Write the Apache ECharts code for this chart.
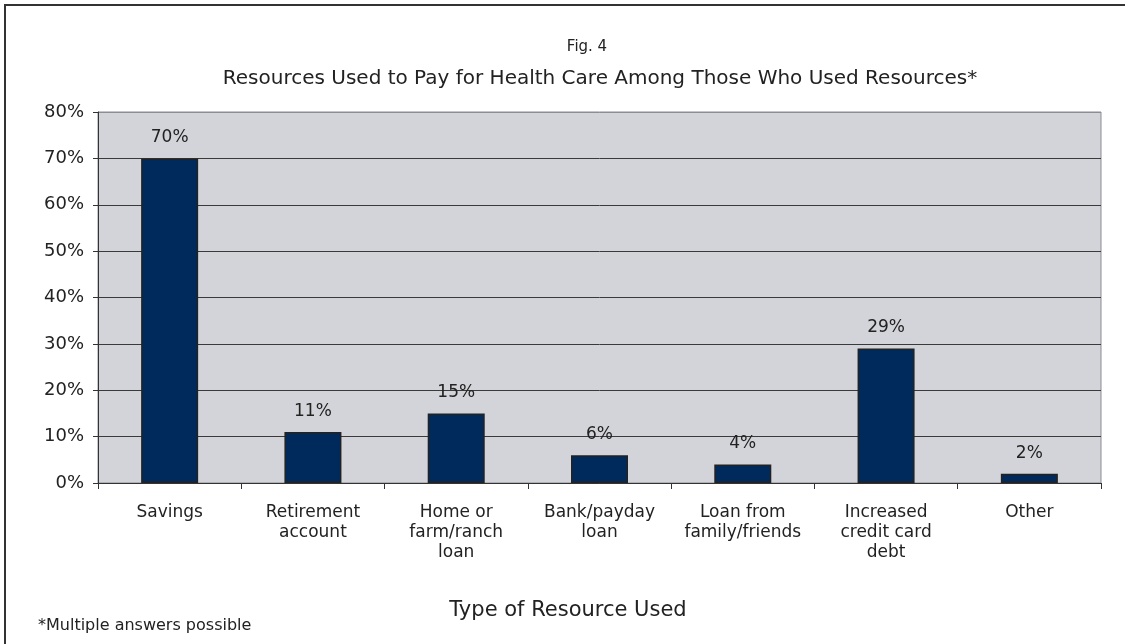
<!DOCTYPE html>
<html>
<head>
<meta charset="utf-8">
<script src="https://cdn.jsdelivr.net/npm/echarts@6/dist/echarts.min.js"></script>
<style>
html,body{margin:0;padding:0;background:#fff;}
#chart{width:1125px;height:644px;}
</style>
</head>
<body>
<div id="chart"></div>
<script>
const categories = ['Savings', 'Retirement\naccount', 'Home or\nfarm/ranch\nloan', 'Bank/payday\nloan', 'Loan from\nfamily/friends', 'Increased\ncredit card\ndebt', 'Other'];
const values = [70, 11, 15, 6, 4, 29, 2];
const yTicks = [0, 10, 20, 30, 40, 50, 60, 70, 80];

const FONT = 'DejaVu Sans';
const chart = echarts.init(document.getElementById('chart'));
chart.setOption({
  backgroundColor: '#ffffff',
  animation: false,
  textStyle: { fontFamily: FONT, color: '#222' },
  title: [
    { text: 'Fig. 4', left: 582, top: 35, textAlign: 'center',
      textStyle: { fontFamily: FONT, fontSize: 15, fontWeight: 'normal', color: '#222' } },
    { text: 'Resources Used to Pay for Health Care Among Those Who Used Resources*', left: 595, top: 64, textAlign: 'center',
      textStyle: { fontFamily: FONT, fontSize: 20, fontWeight: 'normal', color: '#222' } },
    { text: '*Multiple answers possible', left: 33, top: 613,
      textStyle: { fontFamily: FONT, fontSize: 16, fontWeight: 'normal', color: '#222' } },
    { text: 'Type of Resource Used', left: 563, top: 595, textAlign: 'center',
      textStyle: { fontFamily: FONT, fontSize: 21, fontWeight: 'normal', color: '#222' } }
  ],
  graphic: [
    { type: 'rect', shape: { x: 5, y: 5, width: 1300, height: 800 }, z: -10, silent: true,
      style: { fill: 'none', stroke: '#333', lineWidth: 2 } }
  ],
  grid: { left: 98, right: 24, top: 112, bottom: 161, show: true,
    backgroundColor: '#D3D4D9', borderColor: '#8a8d92', borderWidth: 1 },
  xAxis: {
    type: 'category',
    data: categories,
    axisLine: { lineStyle: { color: '#333', width: 1 } },
    axisTick: { show: true, length: 6, alignWithLabel: false, lineStyle: { color: '#333' } },
    axisLabel: { fontFamily: FONT, fontSize: 17, color: '#222', lineHeight: 20, margin: 20, interval: 0 }
  },
  yAxis: {
    type: 'value',
    min: 0, max: 80, interval: 10,
    axisLine: { show: true, lineStyle: { color: '#333', width: 1 } },
    axisTick: { show: true, length: 5, lineStyle: { color: '#333' } },
    axisLabel: { fontFamily: FONT, fontSize: 18, color: '#222', margin: 14,
      formatter: v => yTicks.includes(v) ? v + '%' : '' },
    splitLine: { show: true, lineStyle: {
      color: ['#3a3a3a', '#3a3a3a', '#3a3a3a', '#3a3a3a', '#3a3a3a', '#3a3a3a', '#3a3a3a', '#3a3a3a', '#8a8d92'],
      width: 1 } }
  },
  series: [{
    type: 'bar',
    data: values,
    barWidth: 57,
    itemStyle: { color: '#002A5C', borderColor: '#222', borderWidth: 1.5 },
    label: { show: true, position: 'top', distance: 12, formatter: p => p.value + '%',
      fontFamily: FONT, fontSize: 17, color: '#222' }
  }]
});
</script>
</body>
</html>
